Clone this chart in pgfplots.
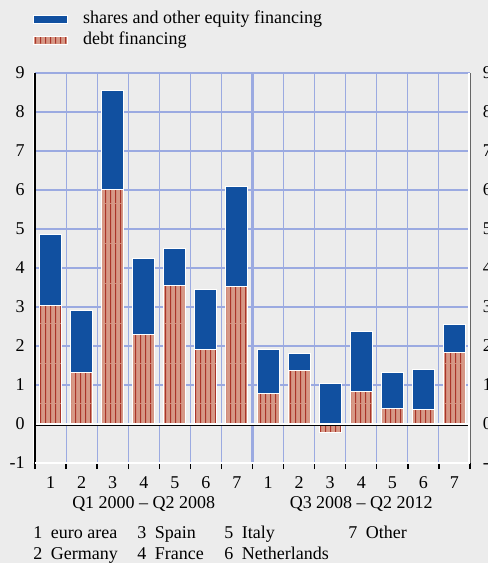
\documentclass[border=0pt]{standalone}
\usepackage{pgfplots}
\pgfplotsset{compat=1.18}
\usepackage{fontspec}
\setmainfont{Liberation Serif}
\usetikzlibrary{patterns}
\definecolor{bgc}{RGB}{236,236,236}
\definecolor{gridc}{RGB}{155,170,225}
\definecolor{eqblue}{RGB}{17,80,160}
\definecolor{salmon}{RGB}{214,152,134}
\definecolor{stripec}{RGB}{170,52,40}
\pgfdeclarepatternformonly{debtstripes}{\pgfpointorigin}{\pgfpoint{3.75pt}{30pt}}{\pgfpoint{3.75pt}{30pt}}{%
  \pgfpathrectangle{\pgfpointorigin}{\pgfpoint{1pt}{30pt}}\pgfusepath{fill}}

\begin{document}
\fontsize{13.5}{16}\selectfont
\begin{tikzpicture}
\fill[bgc] (0,0) rectangle (366pt,422.25pt);
\useasboundingbox (0,0) rectangle (366pt,422.25pt);
% right-hand duplicate tick labels
\begin{axis}[
  at={(26.25pt,75pt)}, anchor=south west,
  scale only axis, width=326.25pt, height=292.5pt,
  xmin=0.5, xmax=14.5, ymin=-1, ymax=9,
  ytick={-1,0,...,9},
  axis y line*=right, hide x axis,
  axis line style={draw=none},
  major tick length=0pt,
  yticklabel style={anchor=west, inner sep=0pt, xshift=9.5pt},
  /pgf/number format/assume math mode=true,
  tick label style={font=\fontsize{13.5}{16}\selectfont},
]
\end{axis}
\begin{axis}[
  at={(26.25pt,75pt)}, anchor=south west,
  scale only axis, width=326.25pt, height=292.5pt,
  clip mode=individual,
  xmin=0.5, xmax=14.5, ymin=-1, ymax=9,
  ytick={-1,0,...,9},
  xtick={1,...,14},
  xticklabels={1,2,3,4,5,6,7,1,2,3,4,5,6,7},
  minor xtick={0.5,1.5,...,14.5},
  xtick pos=bottom, ytick pos=left,
  xminorgrids=true, ymajorgrids=true,
  major grid style={gridc, line width=0.8pt},
  minor grid style={gridc, line width=0.8pt},
  axis line style={draw=none},
  major tick length=0pt,
  minor tick length=4.5pt,
  tick align=outside,
  minor tick style={black, line width=1pt},
  /pgf/number format/assume math mode=true,
  tick label style={font=\fontsize{13.5}{16}\selectfont},
  yticklabel style={anchor=east, inner sep=0pt, xshift=-7.5pt},
  xticklabel style={anchor=north, inner sep=0pt, yshift=-10pt},
  legend style={at={(axis description cs:-0.0046,1.1608)}, anchor=north west,
    draw=none, fill=none, inner sep=0pt, row sep=2.75pt,
    nodes={inner sep=0pt, text height=9.5pt, text depth=3.5pt},
    font=\fontsize{13.5}{16}\selectfont,
    /tikz/every odd column/.append style={column sep=11.25pt}},
  legend cell align=left,
  legend image code/.code={\draw[#1, line width=0.6pt] (0pt,-2.8pt) rectangle (25.5pt,2.8pt);},
]
\draw[gridc, line width=2.4pt] (axis cs:7.5,-1) -- (axis cs:7.5,9);
% shares and other equity financing (drawn as top of stack)
\addplot[ybar, bar width=16.5pt, bar shift=0pt, fill=eqblue, draw=white, line width=0.75pt]
  coordinates {(1,4.87) (2,2.91) (3,8.55) (4,4.25) (5,4.51) (6,3.44) (7,6.08)
               (8,1.90) (9,1.81) (10,1.03) (11,2.38) (12,1.32) (13,1.39) (14,2.54)};
\addlegendentry{shares and other equity financing}
% debt financing
\addplot[ybar, bar width=16.5pt, bar shift=0pt, fill=salmon, draw=white, line width=0.75pt,
  postaction={pattern=debtstripes, pattern color=stripec}]
  coordinates {(1,3.05) (2,1.32) (3,6.02) (4,2.29) (5,3.56) (6,1.91) (7,3.53)
               (8,0.77) (9,1.36) (10,-0.22) (11,0.83) (12,0.40) (13,0.38) (14,1.84)};
\addlegendentry{debt financing}
% axis lines
\draw[white, line width=1.5pt] ([yshift=0.2pt]axis cs:0.5,0) -- ([yshift=0.2pt]axis cs:14.5,0);
\draw[black, line width=1pt] ([yshift=-1.1pt]axis cs:0.5,0) -- ([yshift=-1.1pt]axis cs:14.5,0);
\draw[white, line width=1.5pt] ([xshift=-1pt]rel axis cs:0,0) -- ([xshift=-1pt]rel axis cs:0,1);
\draw[black, line width=0.9pt] (rel axis cs:0,0) -- (rel axis cs:0,1);
\draw[white, line width=1.5pt] ([xshift=-0.5pt]rel axis cs:1,0) -- ([xshift=-0.5pt]rel axis cs:1,1);
\draw[gray!80!black, line width=0.8pt] ([xshift=0.7pt]rel axis cs:1,0) -- ([xshift=0.7pt]rel axis cs:1,1);
\draw[white, line width=1.6pt] (rel axis cs:0,0) -- (rel axis cs:1,0);
\node[anchor=base, yshift=-33.75pt] at (axis cs:4,-1) {Q1 2000 -- Q2 2008};
\node[anchor=base, yshift=-33.75pt] at (axis cs:11,-1) {Q3 2008 -- Q2 2012};
\end{axis}
% footnote key
\node[anchor=base west, inner sep=0pt] at (24.75pt,18pt) {1\hspace{6.5pt}euro area};
\node[anchor=base west, inner sep=0pt] at (102.75pt,18pt) {3\hspace{6.5pt}Spain};
\node[anchor=base west, inner sep=0pt] at (168pt,18pt) {5\hspace{6.5pt}Italy};
\node[anchor=base west, inner sep=0pt] at (261pt,18pt) {7\hspace{6.5pt}Other};
\node[anchor=base west, inner sep=0pt] at (24.75pt,2.25pt) {2\hspace{6.5pt}Germany};
\node[anchor=base west, inner sep=0pt] at (102.75pt,2.25pt) {4\hspace{6.5pt}France};
\node[anchor=base west, inner sep=0pt] at (168pt,2.25pt) {6\hspace{6.5pt}Netherlands};
\end{tikzpicture}
\end{document}
